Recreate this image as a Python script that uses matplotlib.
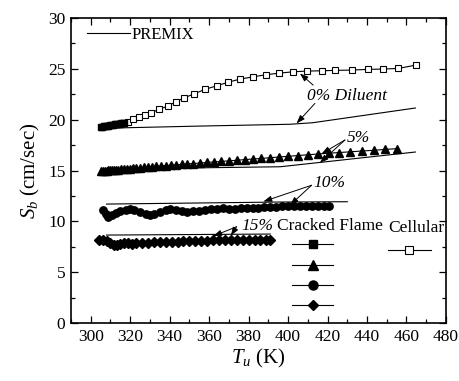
import matplotlib
matplotlib.use('Agg')
import matplotlib.pyplot as plt
from matplotlib.lines import Line2D
from matplotlib.ticker import MultipleLocator

plt.rcParams['font.family'] = ['Liberation Serif', 'DejaVu Serif']
plt.rcParams['mathtext.fontset'] = 'custom'
plt.rcParams['mathtext.rm'] = 'Liberation Serif'
plt.rcParams['mathtext.it'] = 'Liberation Serif:italic'

# 0% diluent, cracked flame (filled squares) then cellular (open squares)
t_crack_0 = [305, 305.8, 306.6, 307.4, 308.2, 309, 309.8, 310.6, 311.4, 312.2,
             313, 313.8, 314.6, 315.4, 316.2, 317]
sb_crack_0 = [19.3, 19.32, 19.35, 19.37, 19.4, 19.42, 19.45, 19.48, 19.5, 19.53,
              19.56, 19.58, 19.61, 19.64, 19.67, 19.7]
t_cell_0 = [319, 321.6, 324.6, 327.5, 330.5, 334.7, 339, 343.2, 347.4, 352.5,
            357.9, 363.8, 369.4, 375.6, 382.4, 388.8, 395.5, 402.6, 409.4, 417,
            423.7, 432.2, 440.6, 448.2, 455.8, 464.8]
sb_cell_0 = [19.79, 20.06, 20.23, 20.45, 20.68, 21.01, 21.34, 21.76, 22.15, 22.55,
             22.98, 23.33, 23.67, 23.99, 24.22, 24.42, 24.58, 24.71, 24.78, 24.81,
             24.85, 24.88, 24.95, 24.98, 25.04, 25.37]

# 5% diluent (triangles)
t_5 = [305, 306, 307, 308, 309, 310, 311, 312, 313, 314, 315.5, 317, 318.5, 320,
       321.5, 323, 325, 327, 329, 331, 333, 335.5, 338, 340.5, 343, 346, 349, 352,
       355.5, 359, 362.5, 366, 370, 374, 378, 382, 386.5, 391, 395.5, 400, 405,
       410, 415, 420.5, 426, 431.5, 437.5, 443.5, 449, 455]
sb_5 = [14.95, 14.96, 14.98, 15.0, 15.01, 15.02, 15.04, 15.05, 15.07, 15.08, 15.1,
        15.13, 15.15, 15.18, 15.2, 15.23, 15.27, 15.3, 15.33, 15.37, 15.4, 15.44,
        15.48, 15.51, 15.55, 15.6, 15.64, 15.69, 15.74, 15.79, 15.84, 15.89, 15.95,
        16.01, 16.07, 16.13, 16.19, 16.26, 16.33, 16.4, 16.47, 16.55, 16.62, 16.7,
        16.77, 16.84, 16.92, 16.99, 17.07, 17.15]

# 10% diluent (circles)
t_10 = [306, 307.5, 309, 311, 313, 315, 318, 320, 322, 325, 328, 330, 332, 335,
        338, 340, 343, 346, 349, 352, 355, 358, 361, 364, 367, 370, 373, 376, 379,
        382, 385, 388, 391, 394, 397, 400, 403, 406, 409, 412, 415, 418, 420.5]
sb_10 = [11.1, 10.7, 10.45, 10.6, 10.8, 11.0, 11.15, 11.2, 11.1, 10.9, 10.7, 10.6,
         10.7, 10.9, 11.1, 11.2, 11.15, 11.05, 10.95, 11.0, 11.05, 11.1, 11.2, 11.25,
         11.28, 11.2, 11.25, 11.3, 11.35, 11.35, 11.35, 11.4, 11.45, 11.45, 11.5,
         11.5, 11.5, 11.5, 11.5, 11.5, 11.5, 11.5, 11.5]

# 15% diluent (diamonds)
t_15 = [304, 306, 308, 310, 312, 313.5, 315, 317, 319, 321, 323, 326, 329, 332,
        335, 338, 341, 344, 347, 350, 353, 356, 359, 362, 365, 368, 371, 374, 377,
        380, 383, 386, 389, 391]
sb_15 = [8.15, 8.2, 8.05, 7.85, 7.7, 7.65, 7.8, 7.9, 7.85, 7.8, 7.85, 7.85, 7.9,
         7.95, 7.95, 8.0, 8.0, 8.0, 8.05, 8.05, 8.1, 8.1, 8.1, 8.12, 8.15, 8.15,
         8.15, 8.15, 8.15, 8.15, 8.15, 8.15, 8.15, 8.15]

# PREMIX predictions
premix_t_0 = [305, 355, 401, 412.5, 464.5]
premix_sb_0 = [19.15, 19.37, 19.55, 19.7, 21.15]
premix_t_5 = [305, 350, 396, 464.5]
premix_sb_5 = [14.85, 15.25, 15.37, 16.82]
premix_t_10 = [308, 396, 430]
premix_sb_10 = [11.7, 11.9, 11.93]
premix_t_15 = [308, 391]
premix_sb_15 = [8.65, 8.75]

fig = plt.figure(figsize=(4.6, 3.81), dpi=100)
ax = fig.add_axes([0.1543, 0.1522, 0.8152, 0.8005])

lw = 0.8
for t, sb in [(premix_t_0, premix_sb_0), (premix_t_5, premix_sb_5),
              (premix_t_10, premix_sb_10), (premix_t_15, premix_sb_15)]:
    ax.plot(t, sb, color='k', lw=lw)

ax.plot(t_cell_0, sb_cell_0, color='k', lw=lw, marker='s', ms=4.2,
        mfc='white', mec='k', mew=0.8)
ax.plot(t_crack_0, sb_crack_0, color='k', lw=lw, marker='s', ms=4.8)
ax.plot(t_5, sb_5, color='k', lw=lw, marker='^', ms=6)
ax.plot(t_10, sb_10, color='k', lw=lw, marker='o', ms=5.3)
ax.plot(t_15, sb_15, color='k', lw=lw, marker='D', ms=4.8)

# annotations
arrow = dict(arrowstyle='-|>,head_length=0.5,head_width=0.18', color='k',
             lw=0.7, shrinkA=0, shrinkB=0)
ax.text(430, 22.3, '0% Diluent', style='italic', fontsize=12.5,
        ha='center', va='center')
ax.annotate('', xy=(406, 24.55), xytext=(412.7, 23.4), arrowprops=arrow)
ax.annotate('', xy=(404.3, 19.63), xytext=(413.6, 21.6), arrowprops=arrow)

ax.text(435.5, 18.2, '5%', style='italic', fontsize=12.5, ha='center', va='center')
ax.annotate('', xy=(417, 16.65), xytext=(428.8, 18.0), arrowprops=arrow)
ax.annotate('', xy=(416.1, 15.75), xytext=(428.8, 18.0), arrowprops=arrow)

ax.text(420.7, 13.8, '10%', style='italic', fontsize=12.5, ha='center', va='center')
ax.annotate('', xy=(387.5, 11.95), xytext=(411.9, 13.55), arrowprops=arrow)
ax.annotate('', xy=(401, 11.6), xytext=(411.9, 13.55), arrowprops=arrow)

ax.text(384.5, 9.55, '15%', style='italic', fontsize=12.5, ha='center', va='center')
ax.annotate('', xy=(362.1, 8.55), xytext=(373.9, 9.47), arrowprops=arrow)
ax.annotate('', xy=(371, 8.6), xytext=(373.9, 9.47), arrowprops=arrow)

# legends
premix_handle = Line2D([], [], color='k', lw=lw)
leg0 = ax.legend([premix_handle], ['PREMIX'], loc='upper left',
                 bbox_to_anchor=(0.043, 0.972), frameon=False, fontsize=12,
                 handlelength=2.6, handletextpad=0.05, borderpad=0,
                 borderaxespad=0)
ax.add_artist(leg0)

crack_handles = [Line2D([], [], color='k', lw=lw, marker=m, ms=s)
                 for m, s in [('s', 6), ('^', 7), ('o', 6.5), ('D', 5.5)]]
leg1 = ax.legend(crack_handles, ['', '', '', ''], title='Cracked Flame',
                 title_fontsize=12.5, loc='upper center',
                 bbox_to_anchor=(0.691, 0.344), frameon=False, fontsize=12,
                 handlelength=2.5, handletextpad=2.1, labelspacing=0.25,
                 borderpad=0, borderaxespad=0)
leg1._legend_box.sep = 3
ax.add_artist(leg1)

cell_handle = Line2D([], [], color='k', lw=lw, marker='s', ms=6,
                     mfc='white', mec='k', mew=0.8)
leg2 = ax.legend([cell_handle], [''], title='Cellular', title_fontsize=12.5,
                 loc='upper center', bbox_to_anchor=(0.92, 0.338),
                 frameon=False, fontsize=12, handlelength=2.6,
                 handletextpad=0.8, borderpad=0, borderaxespad=0)

ax.set_xlim(290, 480)
ax.set_ylim(0, 30)
ax.xaxis.set_major_locator(MultipleLocator(20))
ax.xaxis.set_minor_locator(MultipleLocator(10))
ax.yaxis.set_major_locator(MultipleLocator(5))
ax.yaxis.set_minor_locator(MultipleLocator(2.5))
ax.tick_params(which='both', direction='in', top=True, right=True,
               labelsize=12.5, width=0.9, pad=4)
ax.tick_params(which='major', length=5)
ax.tick_params(which='minor', length=3)
for sp in ax.spines.values():
    sp.set_linewidth(1.2)

ax.set_xlabel('$T_u$ (K)', fontsize=15, labelpad=2)
ax.set_ylabel('$S_b$ (cm/sec)', fontsize=15, labelpad=4)

fig.savefig('out.png', dpi=100)
